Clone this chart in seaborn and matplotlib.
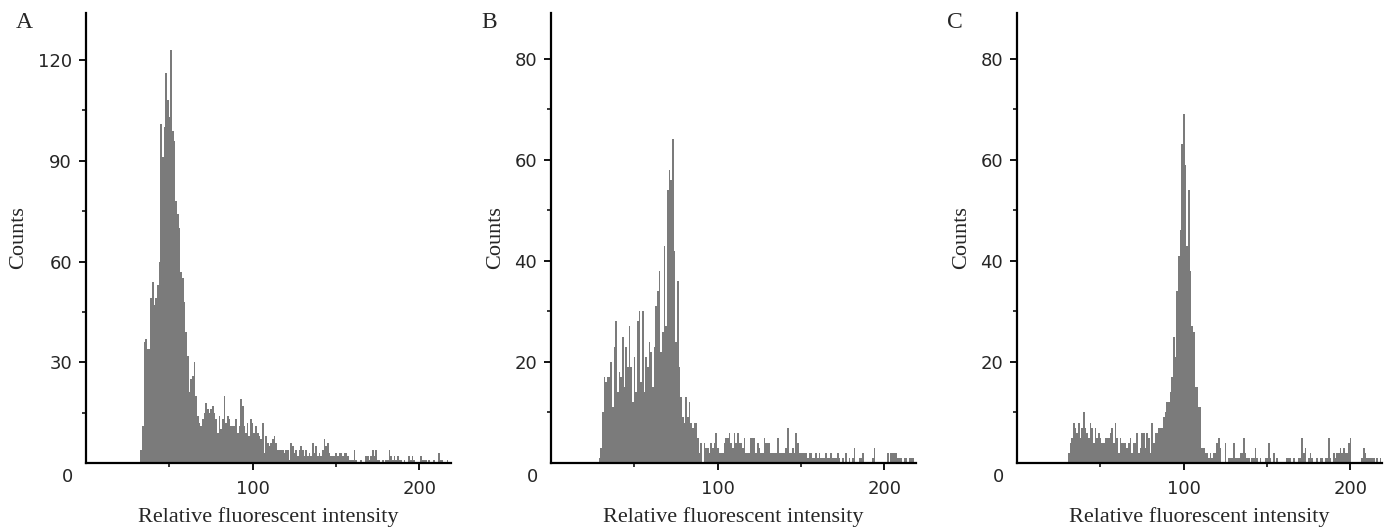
import numpy as np
import matplotlib
matplotlib.use("Agg")
import matplotlib.pyplot as plt
import seaborn as sns

# channel counts (one bin per intensity unit)
a_start = 33
a_counts = [4, 11, 36, 37, 34, 34, 49, 54, 47, 49, 53, 60, 101, 91, 100, 116, 108, 103, 123, 99,
            96, 78, 74, 70, 57, 55, 48, 39, 32, 21, 25, 26, 30, 20, 14, 12, 11, 13, 15, 18,
            16, 15, 16, 17, 15, 13, 9, 14, 10, 13, 20, 12, 14, 13, 11, 11, 11, 13, 9, 11,
            19, 17, 11, 9, 12, 8, 13, 12, 9, 11, 9, 8, 7, 12, 3, 8, 6, 5, 6, 7,
            8, 6, 4, 4, 4, 4, 3, 4, 4, 1, 6, 5, 3, 4, 2, 4, 5, 4, 2, 4,
            2, 3, 2, 6, 3, 5, 2, 3, 2, 4, 7, 5, 6, 3, 2, 2, 2, 3, 2, 3,
            3, 2, 3, 3, 2, 1, 1, 1, 4, 1, 0, 0, 1, 0, 0, 2, 2, 1, 2, 4,
            2, 4, 1, 1, 0, 1, 0, 1, 1, 4, 2, 1, 2, 1, 2, 1, 1, 0, 1, 0,
            0, 2, 1, 2, 1, 0, 0, 0, 2, 1, 1, 1, 0, 1, 0, 0, 1, 0, 0, 3,
            1, 1, 0, 0, 1, 0]

b_start = 29
b_counts = [1, 3, 10, 17, 16, 17, 17, 20, 11, 23, 28, 14, 18, 17, 25, 15, 23, 19, 27, 19,
            12, 21, 14, 28, 30, 16, 30, 14, 21, 19, 24, 22, 15, 23, 31, 34, 38, 22, 26, 43,
            27, 54, 58, 56, 64, 42, 24, 36, 19, 13, 9, 8, 13, 9, 12, 8, 7, 8, 8, 5,
            2, 4, 0, 4, 3, 3, 2, 4, 3, 4, 6, 3, 2, 2, 2, 4, 5, 5, 6, 4,
            3, 6, 4, 6, 4, 4, 3, 5, 2, 2, 2, 5, 5, 5, 2, 4, 3, 2, 2, 5,
            4, 4, 4, 2, 2, 2, 2, 5, 2, 2, 2, 2, 3, 7, 2, 2, 3, 2, 6, 4,
            2, 2, 2, 2, 2, 1, 2, 2, 1, 1, 2, 1, 2, 1, 1, 1, 2, 1, 1, 2,
            1, 1, 1, 2, 1, 0, 1, 0, 2, 0, 1, 0, 1, 3, 0, 0, 1, 1, 2, 0,
            0, 0, 0, 0, 1, 3, 0, 0, 0, 0, 0, 0, 0, 2, 0, 2, 2, 2, 2, 1,
            1, 1, 0, 1, 1, 0, 1, 1, 1]

c_start = 31
c_counts = [2, 4, 5, 8, 7, 6, 8, 5, 7, 10, 7, 6, 5, 8, 7, 4, 7, 5, 6, 5,
            4, 4, 5, 5, 5, 6, 7, 4, 8, 5, 2, 5, 4, 4, 4, 3, 4, 5, 2, 4,
            4, 6, 2, 3, 6, 6, 3, 6, 5, 2, 8, 4, 6, 6, 7, 7, 7, 9, 10, 12,
            12, 14, 17, 25, 21, 34, 41, 46, 63, 69, 59, 43, 54, 38, 27, 26, 15, 15, 11, 11,
            3, 3, 2, 2, 1, 2, 1, 2, 2, 4, 5, 3, 0, 0, 4, 0, 1, 1, 1, 4,
            1, 1, 1, 2, 2, 5, 2, 1, 1, 0, 1, 1, 3, 1, 0, 1, 0, 0, 1, 1,
            4, 1, 0, 2, 0, 1, 0, 0, 0, 0, 0, 1, 1, 1, 0, 1, 0, 0, 1, 1,
            5, 2, 3, 0, 1, 2, 1, 0, 0, 1, 0, 1, 1, 0, 1, 1, 5, 1, 0, 2,
            1, 2, 2, 3, 2, 3, 2, 2, 4, 5, 0, 0, 0, 0, 0, 0, 1, 3, 2, 1,
            1, 1, 1, 1, 0, 1, 0, 1, 0, 1]

panel_letters = ["A", "B", "C"]
y_tops = [134, 89, 89]
y_major = [[30, 60, 90, 120], [20, 40, 60, 80], [20, 40, 60, 80]]
y_minor = [[15, 45, 75, 105], [10, 30, 50, 70], [10, 30, 50, 70]]
x_label = "Relative fluorescent intensity"
y_label = "Counts"

sns.set_style("ticks")
plt.rcParams["font.family"] = ["DejaVu Sans"]
serif = ["Liberation Serif", "DejaVu Serif"]

fig = plt.figure(figsize=(13.85, 5.29), dpi=100)
lefts = [86 / 1385, 551 / 1385, 1017 / 1385]
bottom = 1 - 463 / 529
width = 365 / 1385
height = 450 / 529

data = [(a_start, a_counts), (b_start, b_counts), (c_start, c_counts)]
bar_color = "#7b7b7b"

for i in range(3):
    ax = fig.add_axes([lefts[i], bottom, width, height])
    start, counts = data[i]
    chans = np.arange(start, start + len(counts))
    sns.histplot(x=chans, weights=counts, discrete=True, element="step", fill=True,
                 color=bar_color, alpha=1, linewidth=0, ax=ax)
    ax.set_xlim(0, 219)
    ax.set_ylim(0, y_tops[i])
    ax.set_xticks([100, 200])
    ax.set_xticks([50, 150], minor=True)
    ax.set_yticks(y_major[i])
    ax.set_yticks(y_minor[i], minor=True)
    ax.tick_params(axis="both", which="major", direction="out", length=5, width=1.3,
                   labelsize=13, pad=5, color="black")
    ax.tick_params(axis="x", which="major", pad=7)
    ax.tick_params(axis="both", which="minor", direction="out", length=3, width=1.1,
                   color="black")
    sns.despine(ax=ax)
    for sp in ["left", "bottom"]:
        ax.spines[sp].set_linewidth(1.6)
        ax.spines[sp].set_color("black")
    ax.set_xlabel(x_label, family=serif, fontsize=16, labelpad=7)
    ax.set_ylabel(y_label, family=serif, fontsize=16, labelpad=7)
    ax.annotate("0", xy=(0, 0), xycoords="axes fraction", xytext=(-13, -10),
                textcoords="offset points", ha="center", va="center", fontsize=13)
    fig.text(lefts[i] - 70 / 1385, 1 - 22 / 529, panel_letters[i], family=serif,
             fontsize=17, ha="left", va="center")

fig.savefig("out.png", dpi=100)
